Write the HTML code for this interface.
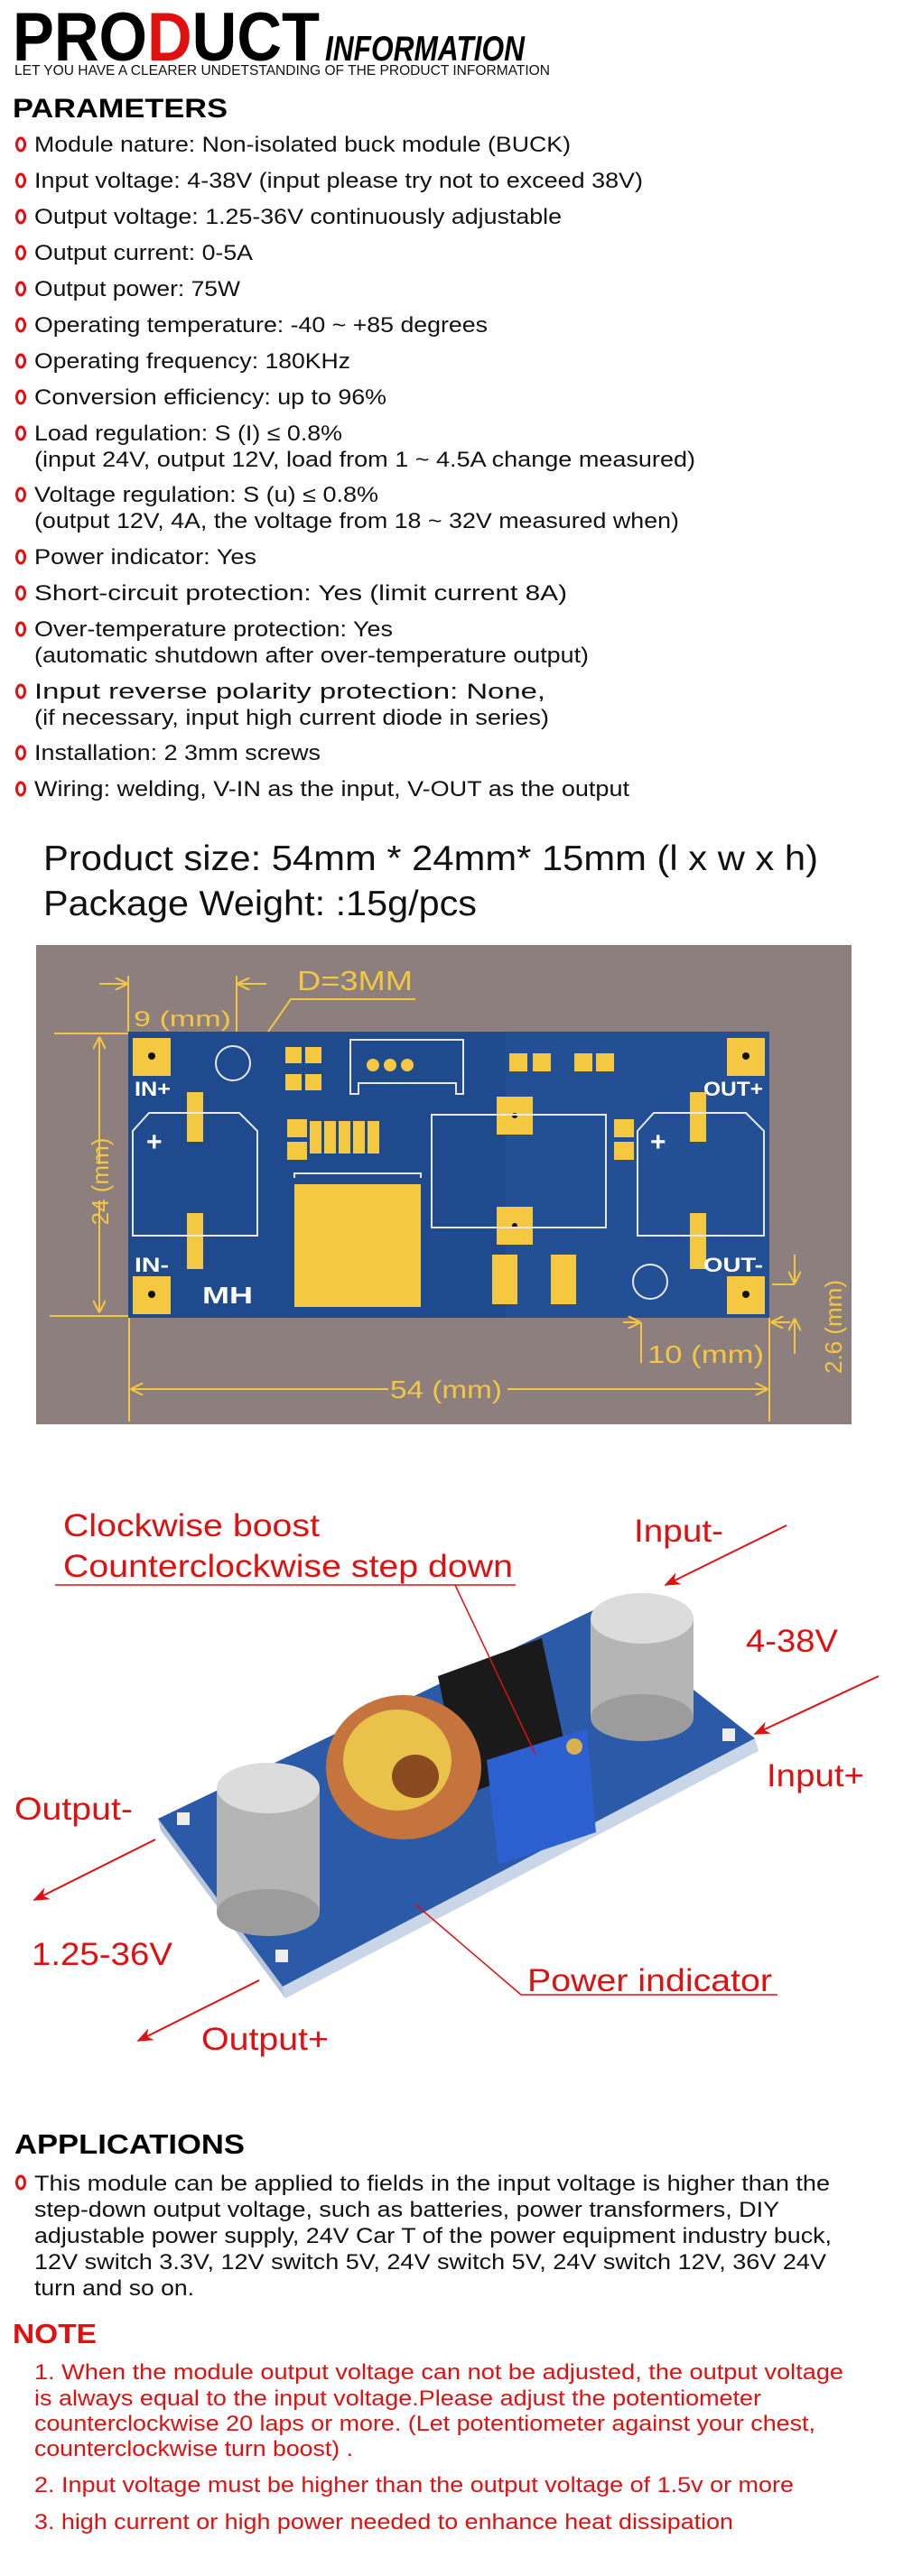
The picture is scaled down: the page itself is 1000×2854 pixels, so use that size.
<!DOCTYPE html>
<html><head><meta charset="utf-8"><style>
html,body{margin:0;padding:0;background:#fff}
svg{display:block}
text{font-family:"Liberation Sans",Arial,sans-serif}
</style></head><body>
<svg width="1000" height="2854" viewBox="0 0 1000 2854" xmlns="http://www.w3.org/2000/svg">
<defs>
<marker id="ah" viewBox="0 0 10 10" refX="9" refY="5" markerWidth="9" markerHeight="9" orient="auto"><path d="M0,1 L10,5 L0,9 L3,5 z" fill="#e01010"/></marker>
<marker id="ya" viewBox="0 0 10 10" refX="9" refY="5" markerWidth="7" markerHeight="7" orient="auto"><path d="M0,0 L10,5 L0,10" fill="none" stroke="#f2c744" stroke-width="1.5"/></marker>
</defs>
<rect width="1000" height="2854" fill="#fff"/>

<!-- Header -->
<text x="14" y="67" font-size="76" font-weight="bold" textLength="340" lengthAdjust="spacingAndGlyphs" fill="#000">PRO<tspan fill="#e01010">D</tspan>UCT</text>
<text x="360" y="67" font-size="39" font-weight="bold" font-style="italic" textLength="221" lengthAdjust="spacingAndGlyphs" fill="#000">INFORMATION</text>
<text x="16" y="83" font-size="16" textLength="593" lengthAdjust="spacingAndGlyphs" fill="#111">LET YOU HAVE A CLEARER UNDETSTANDING OF THE PRODUCT INFORMATION</text>
<text x="14" y="130" font-size="30" font-weight="bold" textLength="238" lengthAdjust="spacingAndGlyphs" fill="#000">PARAMETERS</text>

<g fill="none" stroke="#e01010" stroke-width="3">
<ellipse cx="23" cy="160" rx="4.5" ry="7"/><ellipse cx="23" cy="200" rx="4.5" ry="7"/><ellipse cx="23" cy="240" rx="4.5" ry="7"/><ellipse cx="23" cy="280" rx="4.5" ry="7"/><ellipse cx="23" cy="320" rx="4.5" ry="7"/><ellipse cx="23" cy="360" rx="4.5" ry="7"/><ellipse cx="23" cy="400" rx="4.5" ry="7"/><ellipse cx="23" cy="440" rx="4.5" ry="7"/><ellipse cx="23" cy="480" rx="4.5" ry="7"/><ellipse cx="23" cy="548" rx="4.5" ry="7"/><ellipse cx="23" cy="617" rx="4.5" ry="7"/><ellipse cx="23" cy="657" rx="4.5" ry="7"/><ellipse cx="23" cy="697" rx="4.5" ry="7"/><ellipse cx="23" cy="766" rx="4.5" ry="7"/><ellipse cx="23" cy="834" rx="4.5" ry="7"/><ellipse cx="23" cy="874" rx="4.5" ry="7"/>
<ellipse cx="23" cy="2418" rx="4.5" ry="7"/>
</g>
<g font-size="24" fill="#111" lengthAdjust="spacingAndGlyphs">
<text x="38" y="168" textLength="594" lengthAdjust="spacingAndGlyphs">Module nature: Non-isolated buck module (BUCK)</text>
<text x="38" y="208" textLength="674" lengthAdjust="spacingAndGlyphs">Input voltage: 4-38V (input please try not to exceed 38V)</text>
<text x="38" y="248" textLength="584" lengthAdjust="spacingAndGlyphs">Output voltage: 1.25-36V continuously adjustable</text>
<text x="38" y="288" textLength="242" lengthAdjust="spacingAndGlyphs">Output current: 0-5A</text>
<text x="38" y="328" textLength="228" lengthAdjust="spacingAndGlyphs">Output power: 75W</text>
<text x="38" y="368" textLength="502" lengthAdjust="spacingAndGlyphs">Operating temperature: -40 ~ +85 degrees</text>
<text x="38" y="408" textLength="350" lengthAdjust="spacingAndGlyphs">Operating frequency: 180KHz</text>
<text x="38" y="448" textLength="390" lengthAdjust="spacingAndGlyphs">Conversion efficiency: up to 96%</text>
<text x="38" y="488" textLength="341" lengthAdjust="spacingAndGlyphs">Load regulation: S (I) ≤ 0.8%</text>
<text x="38" y="517" textLength="732" lengthAdjust="spacingAndGlyphs">(input 24V, output 12V, load from 1 ~ 4.5A change measured)</text>
<text x="38" y="556" textLength="381" lengthAdjust="spacingAndGlyphs">Voltage regulation: S (u) ≤ 0.8%</text>
<text x="38" y="585" textLength="714" lengthAdjust="spacingAndGlyphs">(output 12V, 4A, the voltage from 18 ~ 32V measured when)</text>
<text x="38" y="625" textLength="246" lengthAdjust="spacingAndGlyphs">Power indicator: Yes</text>
<text x="38" y="665" textLength="590" lengthAdjust="spacingAndGlyphs">Short-circuit protection: Yes (limit current 8A)</text>
<text x="38" y="705" textLength="397" lengthAdjust="spacingAndGlyphs">Over-temperature protection: Yes</text>
<text x="38" y="734" textLength="614" lengthAdjust="spacingAndGlyphs">(automatic shutdown after over-temperature output)</text>
<text x="38" y="774" textLength="566" lengthAdjust="spacingAndGlyphs">Input reverse polarity protection: None,</text>
<text x="38" y="803" textLength="570" lengthAdjust="spacingAndGlyphs">(if necessary, input high current diode in series)</text>
<text x="38" y="842" textLength="317" lengthAdjust="spacingAndGlyphs">Installation: 2 3mm screws</text>
<text x="38" y="882" textLength="659" lengthAdjust="spacingAndGlyphs">Wiring: welding, V-IN as the input, V-OUT as the output</text>
</g>

<text x="48" y="964" font-size="39" fill="#111" textLength="858" lengthAdjust="spacingAndGlyphs">Product size: 54mm * 24mm* 15mm (l x w x h)</text>
<text x="48" y="1014" font-size="39" fill="#111" textLength="480" lengthAdjust="spacingAndGlyphs">Package Weight: :15g/pcs</text>

<!-- PCB drawing -->
<rect x="40" y="1047" width="903" height="531" fill="#8d7f7d"/>
<rect x="142" y="1143" width="710" height="317" fill="#1f4a8e"/>
<rect x="560" y="1143" width="292" height="317" fill="#27549a" opacity="0.5"/>
<g fill="#f5c842">
<rect x="147" y="1150" width="42" height="42"/><rect x="805" y="1150" width="42" height="42"/>
<rect x="147" y="1414" width="42" height="42"/><rect x="805" y="1414" width="42" height="42"/>
<rect x="326" y="1312" width="140" height="136"/>
<rect x="207" y="1210" width="18" height="55"/><rect x="207" y="1344" width="18" height="62"/>
<rect x="764" y="1210" width="18" height="55"/><rect x="764" y="1344" width="18" height="62"/>
<rect x="550" y="1215" width="40" height="42"/><rect x="550" y="1337" width="40" height="42"/>
<rect x="343" y="1242" width="13" height="36"/><rect x="359" y="1242" width="13" height="36"/><rect x="375" y="1242" width="13" height="36"/><rect x="391" y="1242" width="13" height="36"/><rect x="407" y="1242" width="13" height="36"/>
<rect x="318" y="1240" width="22" height="20"/><rect x="318" y="1265" width="22" height="20"/>
<rect x="680" y="1240" width="22" height="20"/><rect x="680" y="1265" width="22" height="20"/>
<rect x="316" y="1160" width="18" height="18"/><rect x="338" y="1160" width="18" height="18"/>
<rect x="316" y="1190" width="18" height="18"/><rect x="338" y="1190" width="18" height="18"/>
<rect x="564" y="1167" width="20" height="20"/><rect x="590" y="1167" width="20" height="20"/>
<rect x="636" y="1167" width="20" height="20"/><rect x="660" y="1167" width="20" height="20"/>
<rect x="545" y="1390" width="28" height="55"/><rect x="610" y="1390" width="28" height="55"/>
<circle cx="413" cy="1180" r="7"/><circle cx="432" cy="1180" r="7"/><circle cx="451" cy="1180" r="7"/>
</g>
<g fill="#111"><circle cx="168" cy="1170" r="4"/><circle cx="826" cy="1170" r="4"/><circle cx="168" cy="1434" r="4"/><circle cx="826" cy="1434" r="4"/><circle cx="570" cy="1236" r="3"/><circle cx="570" cy="1358" r="3"/></g>
<g fill="none" stroke="#e8e8f0" stroke-width="2">
<path d="M147,1369 V1253 L165,1233 H265 L285,1253 V1369 Z"/>
<path d="M706,1369 V1253 L724,1233 H826 L846,1253 V1369 Z"/>
<rect x="478" y="1235" width="193" height="125"/>
<circle cx="258" cy="1178" r="19"/><circle cx="720" cy="1420" r="19"/>
<path d="M388,1152 H513 V1212 H505 V1200 H397 V1212 H388 Z"/>
<path d="M326,1305 V1300 H466 V1305"/>
</g>
<g fill="#f5c842" font-size="9"><text x="179" y="1400" fill="none"/></g>
<g fill="none" stroke="#f5c842" stroke-width="1.6">
<g fill="none" stroke="#e8c8a0" stroke-width="1.3">
<path d="M175,1390 h0"/>
</g>
</g>
<g fill="#fff" font-size="22" font-weight="bold">
<text x="149" y="1214" textLength="40" lengthAdjust="spacingAndGlyphs">IN+</text>
<text x="149" y="1409" textLength="38" lengthAdjust="spacingAndGlyphs">IN-</text>
<text x="779" y="1214" textLength="66" lengthAdjust="spacingAndGlyphs">OUT+</text>
<text x="779" y="1409" textLength="66" lengthAdjust="spacingAndGlyphs">OUT-</text>
<text x="224" y="1444" font-family="Liberation Serif" font-size="26" textLength="56" lengthAdjust="spacingAndGlyphs">MH</text>
<text x="162" y="1275" font-size="30">+</text><text x="720" y="1275" font-size="30">+</text>
</g>
<g stroke="#f2c744" stroke-width="2" fill="none">
<line x1="60" y1="1145" x2="142" y2="1145"/><line x1="55" y1="1458" x2="142" y2="1458"/>
<line x1="110" y1="1290" x2="110" y2="1150" marker-end="url(#ya)"/><line x1="110" y1="1330" x2="110" y2="1453" marker-end="url(#ya)"/>
<line x1="142" y1="1081" x2="142" y2="1143"/><line x1="262" y1="1081" x2="262" y2="1143"/>
<line x1="110" y1="1090" x2="140" y2="1090" marker-end="url(#ya)"/><line x1="295" y1="1090" x2="264" y2="1090" marker-end="url(#ya)"/>
<polyline points="297,1143 322,1107 460,1107"/>
<line x1="143" y1="1460" x2="143" y2="1575"/><line x1="852" y1="1460" x2="852" y2="1575"/>
<line x1="430" y1="1539" x2="146" y2="1539" marker-end="url(#ya)"/><line x1="562" y1="1539" x2="849" y2="1539" marker-end="url(#ya)"/>
<line x1="710" y1="1465" x2="710" y2="1510"/><line x1="690" y1="1465" x2="708" y2="1465" marker-end="url(#ya)"/>
<line x1="875" y1="1465" x2="855" y2="1465" marker-end="url(#ya)"/>
<line x1="855" y1="1423" x2="880" y2="1423"/><line x1="880" y1="1390" x2="880" y2="1421" marker-end="url(#ya)"/>
<line x1="880" y1="1500" x2="880" y2="1462" marker-end="url(#ya)"/>
</g>
<g fill="#f2c744" font-size="28">
<text x="329" y="1097" font-size="31" textLength="128" lengthAdjust="spacingAndGlyphs">D=3MM</text>
<text x="148" y="1137" font-size="24" textLength="108" lengthAdjust="spacingAndGlyphs">9 (mm)</text>
<text x="432" y="1549" textLength="124" lengthAdjust="spacingAndGlyphs">54 (mm)</text>
<text x="717" y="1510" textLength="129" lengthAdjust="spacingAndGlyphs">10 (mm)</text>
<text transform="translate(120,1309) rotate(-90)" text-anchor="middle" font-size="26">24 (mm)</text>
<text transform="translate(932,1470) rotate(-90)" text-anchor="middle" font-size="26">2.6 (mm)</text>
</g>

<!-- Module photo (simplified) -->
<polygon points="175,2015 657,1784 836,1926 313,2201" fill="#2a5aa8"/>
<polygon points="313,2201 836,1926 840,1940 316,2214" fill="#c9d6e8"/>
<polygon points="175,2015 313,2201 316,2214 178,2028" fill="#b8c6dc"/>
<polygon points="485,1857 600,1815 628,1945 512,1990" fill="#1a1a1a"/>
<!-- right cap -->
<rect x="654" y="1793" width="114" height="110" fill="#b5b5b5"/>
<ellipse cx="711" cy="1903" rx="57" ry="26" fill="#9c9c9c"/>
<ellipse cx="711" cy="1793" rx="57" ry="28" fill="#dcdcdc"/>
<!-- inductor -->
<ellipse cx="447" cy="1958" rx="86" ry="80" fill="#c4743c"/>
<ellipse cx="440" cy="1950" rx="60" ry="56" fill="#e8c24a"/>
<ellipse cx="460" cy="1968" rx="26" ry="24" fill="#8a4a20"/>
<!-- pot -->
<polygon points="539,1950 650,1915 660,2030 552,2066" fill="#2c5fd0"/>
<circle cx="636" cy="1935" r="9" fill="#d8b050"/>
<!-- left cap -->
<rect x="240" y="1981" width="114" height="138" fill="#b5b5b5"/>
<ellipse cx="297" cy="2119" rx="57" ry="26" fill="#9c9c9c"/>
<ellipse cx="297" cy="1981" rx="57" ry="28" fill="#dcdcdc"/>
<g fill="#eee"><rect x="196" y="2008" width="14" height="14"/><rect x="800" y="1915" width="14" height="14"/><rect x="305" y="2160" width="14" height="14"/></g>

<g stroke="#e01010" stroke-width="2" fill="none">
<line x1="871" y1="1690" x2="737" y2="1756" marker-end="url(#ah)"/>
<line x1="973" y1="1857" x2="836" y2="1921" marker-end="url(#ah)"/>
<line x1="172" y1="2038" x2="38" y2="2105" marker-end="url(#ah)"/>
<line x1="287" y1="2194" x2="153" y2="2261" marker-end="url(#ah)"/>
</g>
<g stroke="#e01010" stroke-width="1.5" fill="none">
<line x1="61" y1="1756" x2="571" y2="1756"/><line x1="504" y1="1756" x2="593" y2="1944"/>
<line x1="577" y1="2210" x2="861" y2="2210"/><line x1="577" y1="2210" x2="459" y2="2109"/>
</g>
<g fill="#e01010" font-size="35">
<text x="70" y="1702" textLength="284" lengthAdjust="spacingAndGlyphs">Clockwise boost</text>
<text x="70" y="1747" textLength="498" lengthAdjust="spacingAndGlyphs">Counterclockwise step down</text>
<text x="702" y="1708" textLength="99" lengthAdjust="spacingAndGlyphs">Input-</text>
<text x="826" y="1830" textLength="102" lengthAdjust="spacingAndGlyphs">4-38V</text>
<text x="849" y="1979" textLength="108" lengthAdjust="spacingAndGlyphs">Input+</text>
<text x="16" y="2016" textLength="131" lengthAdjust="spacingAndGlyphs">Output-</text>
<text x="35" y="2177" textLength="156" lengthAdjust="spacingAndGlyphs">1.25-36V</text>
<text x="223" y="2271" textLength="141" lengthAdjust="spacingAndGlyphs">Output+</text>
<text x="584" y="2206" textLength="271" lengthAdjust="spacingAndGlyphs">Power indicator</text>
</g>

<!-- Applications -->
<text x="16" y="2386" font-size="31" font-weight="bold" textLength="255" lengthAdjust="spacingAndGlyphs" fill="#000">APPLICATIONS</text>
<g font-size="24" fill="#111">
<text x="38" y="2427" textLength="881" lengthAdjust="spacingAndGlyphs">This module can be applied to fields in the input voltage is higher than the</text>
<text x="38" y="2456" textLength="825" lengthAdjust="spacingAndGlyphs">step-down output voltage, such as batteries, power transformers, DIY</text>
<text x="38" y="2485" textLength="883" lengthAdjust="spacingAndGlyphs">adjustable power supply, 24V Car T of the power equipment industry buck,</text>
<text x="38" y="2514" textLength="877" lengthAdjust="spacingAndGlyphs">12V switch 3.3V, 12V switch 5V, 24V switch 5V, 24V switch 12V, 36V 24V</text>
<text x="38" y="2543" textLength="177" lengthAdjust="spacingAndGlyphs">turn and so on.</text>
</g>
<text x="14" y="2596" font-size="31" font-weight="bold" textLength="93" lengthAdjust="spacingAndGlyphs" fill="#e01010">NOTE</text>
<g font-size="24" fill="#e01010">
<text x="38" y="2636" textLength="896" lengthAdjust="spacingAndGlyphs">1. When the module output voltage can not be adjusted, the output  voltage</text>
<text x="38" y="2665" textLength="805" lengthAdjust="spacingAndGlyphs">is always equal to the input voltage.Please adjust the potentiometer</text>
<text x="38" y="2693" textLength="865" lengthAdjust="spacingAndGlyphs">counterclockwise 20 laps or more. (Let potentiometer against your chest,</text>
<text x="38" y="2721" textLength="353" lengthAdjust="spacingAndGlyphs">counterclockwise turn boost) .</text>
<text x="38" y="2761" textLength="841" lengthAdjust="spacingAndGlyphs">2. Input voltage must be higher than the output voltage of 1.5v or more</text>
<text x="38" y="2802" textLength="774" lengthAdjust="spacingAndGlyphs">3. high current or high power needed to enhance heat dissipation</text>
</g>
</svg>
</body></html>
